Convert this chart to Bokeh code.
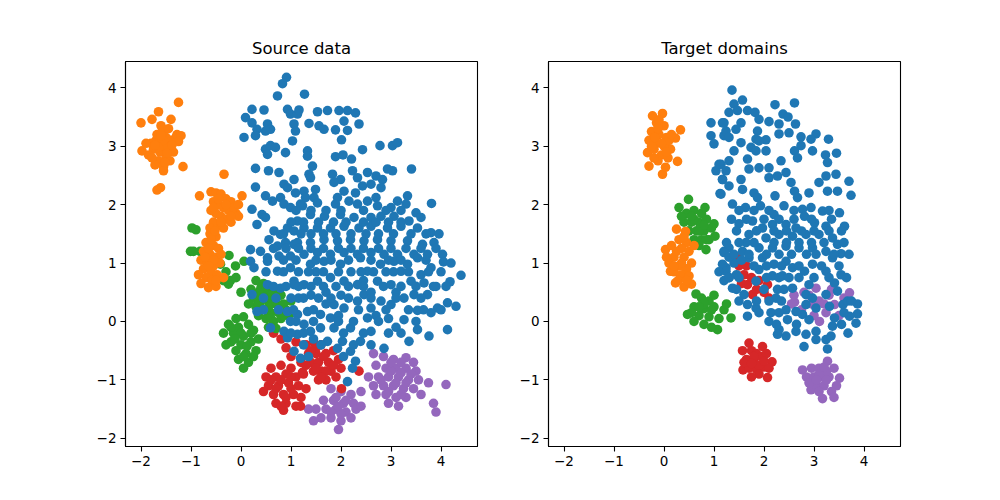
from bokeh.plotting import figure
from bokeh.layouts import row
from bokeh.models import Range1d, FixedTicker, CustomJSTickFormatter
from bokeh.embed import file_html
from bokeh.resources import INLINE

TITLES = ["Source data", "Target domains"]
TICKS = [-2, -1, 0, 1, 2, 3, 4]
X_RANGE = (-2.31, 4.73)
Y_RANGE = (-2.14, 4.45)
COLORS = {"blue": "#1f77b4", "orange": "#ff7f0e", "green": "#2ca02c",
          "red": "#d62728", "purple": "#9467bd"}

# ---------------- Source data ----------------
src_blue = [
    (0.91,4.18),(0.83,4.07),(0.73,3.86),(0.22,3.63),(0.46,3.62),(0.09,3.49),(0.22,3.40),(0.32,3.29),
    (0.53,3.38),(0.59,3.29),(0.49,3.26),(0.06,3.15),(0.29,3.18),(0.93,3.63),(0.99,3.55),(1.06,3.38),
    (1.09,3.26),(1.03,3.09),(1.13,3.55),(0.49,2.95),(0.59,3.01),(0.69,2.98),(0.53,2.86),(0.89,2.89),
    (0.29,2.62),(0.55,2.58),(0.76,2.55),(0.29,2.30),(0.86,2.35),(1.06,2.43),(1.09,2.20),(0.93,2.29),
    (0.49,2.15),(0.63,2.06),(0.79,2.12),(0.86,2.01),(0.99,1.95),(0.22,1.92),(0.32,1.66),(0.42,1.83),
    (0.49,1.78),(1.19,2.01),(0.19,1.23),(0.39,1.20),(0.56,1.40),(0.66,1.55),(0.79,1.49),(0.93,1.60),
    (1.06,1.55),(0.89,1.35),(1.06,1.32),(0.73,1.29),(0.53,1.09),(0.76,1.12),(0.99,1.12),
    (1.27,3.89),(1.16,3.62),(1.53,3.59),(1.73,3.61),(1.96,3.61),(2.13,3.61),(2.29,3.57),(2.06,3.43),
    (1.36,3.39),(1.56,3.35),(1.66,3.29),(1.89,3.28),(2.13,3.27),(2.36,3.38),(2.01,3.11),(2.43,2.94),
    (2.78,3.01),(3.03,3.01),(3.13,3.06),(1.33,2.92),(1.33,2.83),(1.89,2.82),(2.04,2.85),(2.21,2.78),
    (1.43,2.66),(1.36,2.52),(3.41,2.61),(2.93,2.61),(3.03,2.58),(2.53,2.55),(2.23,2.58),(1.83,2.52),
    (1.39,2.46),(1.99,2.43),(2.33,2.46),(2.70,2.49),(2.83,2.43),(1.86,2.38),(2.43,2.32),(2.60,2.35),
    (2.80,2.29),(1.26,2.23),(1.49,2.26),(2.06,2.23),(2.29,2.20),(1.46,2.12),(1.29,2.12),(1.93,2.12),
    (2.16,2.06),(2.70,2.12),(2.53,2.06),(3.33,2.15),(3.13,2.06),(3.81,2.02),(1.23,1.98),(1.53,2.03),
    (1.89,2.01),(2.33,2.01),(2.73,1.98),(3.00,1.95),(3.30,2.01),(3.50,1.86),(3.60,1.78),(1.39,1.83),
    (1.67,1.80),(1.99,1.83),(2.26,1.78),(2.60,1.78),(2.80,1.80),(3.06,1.80),(3.36,1.72),(1.13,1.72),
    (1.26,1.60),(1.53,1.60),(1.79,1.60),(2.06,1.63),(2.36,1.60),(2.60,1.63),(2.93,1.60),(3.20,1.63),
    (3.53,1.60),(3.80,1.52),(3.96,1.50),(3.86,1.35),(3.63,1.32),(3.33,1.38),(3.00,1.38),(2.73,1.40),
    (2.46,1.38),(2.19,1.40),(1.93,1.38),(1.66,1.40),(1.39,1.35),(1.13,1.35),(4.03,1.15),(3.73,1.15),
    (3.46,1.15),(3.13,1.15),(2.86,1.15),(2.60,1.18),(2.33,1.15),(2.06,1.18),(1.79,1.15),(1.53,1.18),
    (1.26,1.15),
    (4.40,0.79),(4.18,0.68),(4.05,1.02),(3.80,0.92),(3.53,1.09),(3.66,0.66),(3.40,0.69),(3.20,0.86),
    (3.00,0.63),(2.73,0.69),(2.53,0.86),(2.33,0.63),(2.06,0.69),(1.79,0.75),(1.53,0.69),(1.26,0.63),
    (1.06,0.69),(1.39,0.98),(1.66,1.03),(1.99,0.98),(2.39,1.09),(2.79,0.98),(3.06,1.03),(3.33,0.98),
    (4.30,0.26),(4.13,0.32),(3.93,0.23),(3.80,0.15),(3.73,0.46),(3.46,0.46),(3.53,0.19),(3.26,0.40),
    (3.26,0.03),(3.10,-0.10),(3.00,0.29),(2.80,0.35),(2.60,0.23),(2.46,0.46),(2.33,0.35),(2.53,0.06),
    (2.60,-0.17),(2.39,-0.34),(2.19,-0.11),(2.06,0.23),(1.86,0.29),(1.79,0.06),(1.59,0.12),(1.59,-0.11),
    (1.86,-0.11),(2.03,-0.34),(2.19,-0.51),(2.29,-0.68),(2.23,-0.80),(2.13,-1.03),(1.33,0.17),(1.26,-0.05),
    (1.39,-0.17),(1.13,-0.22),(1.06,-0.51),(1.19,-0.63),(1.73,-0.34),(1.93,-0.46),(2.86,-0.46),(3.36,-0.34),
    (3.53,-0.14),(3.76,-0.25),(4.13,-0.14),
    (0.19,1.03),(0.53,1.03),(0.26,0.92),(0.73,0.86),(0.99,0.92),(0.53,0.63),(0.79,0.57),(1.06,0.63),
    (0.22,0.46),(0.32,0.17),(0.93,0.17),(1.13,0.12),(0.59,-0.11),(0.86,-0.17),(0.99,0.00),(0.93,-0.28),
    (1.40,0.45),(1.70,0.50),(2.00,0.45),(2.20,0.85),(2.60,0.50),(2.90,0.85),(3.10,0.50),(1.15,0.40),
    (1.50,0.85),(2.45,0.70),(2.70,0.10),(2.95,0.05),(1.95,0.10),(1.45,-0.30),(1.70,0.30),(3.60,0.80),
    (3.90,0.60),(4.20,1.00),
    (1.10,1.90),(1.40,1.90),(1.70,1.90),(2.00,1.90),(2.45,1.90),(2.90,1.90),(3.20,1.90),
    (1.00,1.70),(1.25,1.70),(1.55,1.70),(1.85,1.70),(2.10,1.70),(2.45,1.70),(2.70,1.70),(2.95,1.70),(3.20,1.70),
    (0.85,1.50),(1.20,1.50),(1.40,1.50),(1.65,1.50),(1.90,1.50),(2.20,1.50),(2.50,1.50),(2.75,1.50),
    (3.05,1.50),(3.40,1.50),(3.70,1.50),
    (0.65,1.25),(0.90,1.25),(1.15,1.25),(1.40,1.25),(1.65,1.25),(1.95,1.25),(2.20,1.25),(2.45,1.25),
    (2.75,1.25),(3.00,1.25),(3.30,1.25),(3.60,1.25),(3.90,1.25),
    (0.85,1.05),(1.10,1.05),(1.50,1.05),(1.80,1.05),(2.15,1.05),(2.60,1.05),(2.95,1.05),(3.20,1.05),(3.70,1.05),
    (0.50,0.85),(0.85,0.85),(1.15,0.85),(1.35,0.85),(1.65,0.85),(1.95,0.85),(2.40,0.85),(2.65,0.85),
    (3.05,0.85),(3.35,0.85),(3.75,0.85),(4.00,0.85),
    (0.65,0.60),(0.90,0.60),(1.15,0.60),(1.40,0.60),(1.65,0.60),(1.90,0.60),(2.15,0.60),(2.45,0.60),
    (2.85,0.60),(3.20,0.60),(3.50,0.60),(3.85,0.60),(4.10,0.60),
    (0.45,0.40),(0.70,0.40),(1.00,0.40),(1.25,0.40),(1.55,0.40),(1.80,0.40),(2.15,0.40),(2.60,0.40),
    (3.10,0.40),(3.60,0.40),
    (0.45,0.20),(0.75,0.20),(1.05,0.20),(1.45,0.20),(2.35,0.20),(2.90,0.20),(3.35,0.20),(3.65,0.20),(4.00,0.20),
    (1.10,0.00),(1.45,0.00),(1.95,0.00),(2.25,0.00),(2.75,0.00),(3.50,0.00),
    (1.00,-0.20),(1.25,-0.20),(2.05,-0.20),(2.45,-0.20),(2.95,-0.20),(3.20,-0.20),
    (1.25,-0.40),(1.60,-0.40),(2.25,-0.40),(2.60,-0.40),(1.35,-0.60),(2.05,-0.60),
]
src_orange = [
    (-1.58,3.00),(-1.70,3.10),(-1.50,3.15),(-1.62,2.90),(-1.45,2.95),(-1.75,2.95),(-1.55,3.25),(-1.68,3.20),
    (-1.40,3.10),(-1.50,2.80),(-1.65,2.75),(-1.80,3.05),(-1.85,2.85),(-1.30,3.15),(-1.35,2.90),(-1.60,3.35),
    (-1.45,3.30),(-1.72,2.68),(-1.55,2.65),(-1.42,2.75),(-1.28,3.20),(-1.90,3.05),(-1.62,3.05),(-1.50,3.00),
    (-1.25,3.75),(-1.65,3.59),(-2.00,3.40),(-1.78,3.46),(-1.40,3.46),(-1.16,2.65),(-1.55,2.58),(-1.61,2.29),
    (-1.68,2.25),(-1.98,2.92),(-1.20,3.18),(-1.25,3.08),
    (-1.55,3.10),(-1.65,2.98),(-1.48,2.88),(-1.72,3.02),(-1.38,3.02),(-1.60,3.18),(-1.52,2.72),(-1.78,2.80),
    (-0.34,2.52),(-0.83,2.15),(0.02,2.15),(-0.60,2.22),(-0.50,2.20),(-0.40,2.18),(-0.30,2.10),(-0.20,2.05),
    (-0.55,2.05),(-0.45,2.00),(-0.35,1.95),(-0.25,1.90),(-0.10,1.85),(-0.50,1.85),(-0.40,1.80),(-0.30,1.75),
    (-0.60,1.90),(-0.15,1.95),(-0.05,2.00),(-0.45,1.65),(-0.35,1.60),(-0.20,1.70),(-0.05,1.80),(-0.55,1.70),
    (-0.45,2.10),(-0.30,2.00),(-0.55,1.95),(-0.20,1.80),(-0.40,1.70),
    (-0.62,1.50),(-0.50,1.45),(-0.70,1.35),(-0.55,1.30),(-0.45,1.25),(-0.75,1.20),(-0.62,1.15),(-0.50,1.10),
    (-0.80,1.05),(-0.68,1.00),(-0.55,0.95),(-0.42,1.00),(-0.75,0.90),(-0.60,0.85),(-0.48,0.80),(-0.70,0.75),
    (-0.58,0.70),(-0.80,0.65),(-0.65,0.58),(-0.50,0.60),(-0.35,0.75),(-0.85,0.80),(-0.40,1.15),(-0.62,1.60),
    (-0.52,1.55),(-0.65,1.25),(-0.55,1.05),(-0.65,0.95),(-0.72,1.10),(-0.60,1.40),(-0.50,0.70),
]
src_green = [
    (-0.98,1.60),(-0.90,1.57),(-1.01,1.20),(-0.82,1.20),(-0.95,1.20),(-0.24,1.13),(-0.11,0.95),(0.06,1.03),
    (-0.41,0.98),(-0.30,0.85),(-0.21,0.70),(-0.35,0.70),(-0.25,0.64),
    (0.30,0.70),(0.45,0.65),(0.20,0.55),(0.35,0.50),(0.50,0.50),(0.65,0.55),(0.80,0.45),(0.25,0.40),
    (0.40,0.35),(0.55,0.35),(0.70,0.30),(0.85,0.30),(1.00,0.35),(0.30,0.25),(0.45,0.20),(0.60,0.15),
    (0.75,0.15),(0.90,0.20),(0.50,0.05),(0.65,0.00),(0.80,0.05),(0.95,0.10),(0.55,-0.10),(0.70,-0.12),
    (0.00,0.50),(-0.10,0.75),(0.15,0.30),(0.35,0.10),(1.05,0.15),(0.60,0.45),(0.40,0.58),
    (0.40,0.45),(0.55,0.25),(0.70,0.40),(0.85,0.10),(0.60,0.05),(0.35,0.30),(0.75,0.55),(0.50,0.60),
    (-0.10,0.05),(0.05,0.08),(-0.25,-0.05),(-0.05,-0.10),(0.15,-0.05),(-0.35,-0.20),(-0.15,-0.20),(0.05,-0.25),
    (0.25,-0.15),(-0.20,-0.35),(0.00,-0.40),(0.20,-0.35),(0.35,-0.30),(-0.10,-0.50),(0.10,-0.55),(0.30,-0.50),
    (-0.05,-0.65),(0.15,-0.70),(0.05,-0.80),(-0.30,-0.40),(0.25,-0.60),
    (0.00,-0.20),(-0.12,-0.30),(0.12,-0.42),(0.05,-0.60),(-0.20,-0.10),(0.20,-0.20),
]
src_red = [
    (0.60,-0.80),(0.80,-0.75),(1.00,-0.80),(0.50,-0.95),(0.70,-0.95),(0.90,-0.90),(1.10,-0.95),(1.25,-0.90),
    (0.55,-1.10),(0.75,-1.10),(0.95,-1.05),(1.15,-1.10),(0.65,-1.25),(0.85,-1.25),(1.05,-1.25),(1.20,-1.30),
    (0.70,-1.40),(0.90,-1.40),(1.10,-1.45),(0.85,-1.52),(1.19,-1.45),(0.45,-1.20),(1.30,-1.15),
    (0.80,-1.00),(1.00,-1.15),(0.70,-1.15),(0.90,-1.30),(1.00,-0.95),(0.60,-1.00),(0.80,-1.45),
    (0.65,-0.20),(0.80,-0.30),(0.90,-0.45),(1.00,-0.60),(1.10,-0.35),(1.23,-0.87),(1.30,-0.40),(1.45,-0.35),
    (1.60,-0.40),(1.35,-0.55),(1.50,-0.55),(1.70,-0.55),(1.85,-0.50),(1.40,-0.70),(1.55,-0.70),(1.75,-0.70),
    (1.95,-0.65),(1.45,-0.85),(1.60,-0.85),(1.80,-0.85),(2.00,-0.80),(1.55,-1.00),(1.70,-1.00),(1.90,-0.95),
    (2.36,-0.85),(2.01,-1.15),(1.20,-0.70),
    (1.50,-0.45),(1.65,-0.60),(1.50,-0.80),(1.70,-0.85),(1.85,-0.75),(1.60,-0.95),(1.40,-0.50),(1.30,-0.75),
]
src_purple = [
    (2.65,-0.55),(2.85,-0.60),(3.05,-0.65),(3.30,-0.62),(3.45,-0.70),(2.70,-0.75),(2.90,-0.80),(3.10,-0.80),
    (3.30,-0.80),(3.50,-0.85),(2.55,-0.95),(2.75,-0.95),(2.95,-0.95),(3.15,-0.95),(3.35,-1.00),(3.55,-1.00),
    (2.65,-1.10),(2.85,-1.10),(3.05,-1.10),(3.25,-1.15),(3.45,-1.15),(2.70,-1.25),(2.90,-1.25),(3.10,-1.30),
    (3.30,-1.30),(2.95,-1.40),(3.15,-1.45),(3.75,-1.05),(4.10,-1.08),(3.85,-1.40),(3.90,-1.55),(2.40,-1.20),
    (3.60,-1.25),
    (3.00,-0.85),(3.20,-0.88),(3.40,-0.90),(2.80,-1.00),(3.10,-1.05),(3.30,-1.05),(2.95,-1.20),(3.20,-1.25),
    (3.00,-0.70),(3.20,-0.70),
    (1.80,-1.15),(2.00,-1.20),(2.20,-1.25),(1.65,-1.35),(1.85,-1.35),(2.05,-1.40),(2.25,-1.40),(1.50,-1.50),
    (1.70,-1.50),(1.90,-1.50),(2.10,-1.55),(2.30,-1.50),(1.60,-1.65),(1.80,-1.65),(2.00,-1.70),(2.20,-1.65),
    (1.45,-1.70),(1.95,-1.85),(2.40,-1.45),(1.35,-1.50),
    (1.90,-1.30),(2.10,-1.35),(1.80,-1.55),(2.00,-1.58),(1.95,-1.45),
]

# ---------------- Target domains ----------------
tgt_blue = [
    (0.94,3.40),(1.17,3.40),(0.94,3.18),(1.00,3.04),(1.20,3.18),(1.04,2.58),(1.14,2.69),(1.17,2.43),
    (1.12,2.19),(1.20,1.20),
    (1.36,3.96),(1.57,3.79),(1.40,3.72),(1.47,3.61),(1.30,3.58),(1.67,3.61),(1.82,3.58),(1.90,3.46),
    (1.54,3.40),(1.20,3.40),(1.24,3.26),(1.44,3.29),(1.30,3.15),(1.54,3.06),(1.87,3.26),(1.84,3.12),
    (2.04,3.11),(2.10,3.42),(2.22,3.71),(2.61,3.74),(2.38,3.55),(2.48,3.50),(2.30,3.38),(2.63,3.38),
    (2.50,3.23),(2.30,3.21),(2.74,3.16),(3.04,3.21),(2.94,3.12),(3.29,3.12),(2.74,3.01),(2.61,2.92),
    (2.97,2.92),(2.67,2.80),(3.23,2.85),(3.45,2.88),(3.27,2.72),(1.40,2.92),(1.74,2.98),(1.90,3.09),
    (2.04,2.92),(1.84,2.92),(1.67,2.78),(1.30,2.75),(1.10,2.69),(1.24,2.58),(2.34,2.75),(2.10,2.63),
    (1.90,2.63),(1.70,2.61),(2.44,2.55),(2.27,2.49),(2.10,2.46),(1.54,2.43),(1.17,2.43),(1.30,2.32),
    (1.14,2.18),(1.57,2.26),(1.80,2.20),(1.87,2.12),(2.22,2.15),(2.54,2.38),(2.61,2.23),(2.67,2.12),
    (2.90,2.20),(3.10,2.38),(3.24,2.49),(3.44,2.52),(3.27,2.23),(3.47,2.23),(3.70,2.40),(3.74,2.16),
    (1.37,2.01),(1.63,1.95),(1.93,1.98),(2.40,1.98),(2.20,1.83),(2.77,1.92),(2.94,1.95),(3.17,1.89),
    (3.51,1.86),(3.61,1.63),(3.24,1.63),(3.01,1.69),(2.81,1.80),(1.50,1.67),(1.77,1.72),(1.97,1.60),
    (2.17,1.66),(2.44,1.66),(2.64,1.60),(1.70,1.49),(2.04,1.43),(2.30,1.49),(2.57,1.46),(2.84,1.49),
    (3.10,1.49),(3.37,1.43),(3.47,1.32),(1.64,1.35),(1.30,1.26),(1.57,1.20),(1.90,1.26),(2.17,1.26),
    (2.44,1.29),(2.70,1.26),(2.97,1.26),(3.24,1.20),(3.54,1.16),(1.20,1.18),
    (1.24,0.92),(1.30,0.75),(1.37,0.57),(1.17,0.98),(1.60,0.46),(1.67,0.29),(1.84,0.23),(1.67,0.09),
    (1.70,1.09),(1.84,0.69),(1.90,0.89),(1.97,1.09),(2.20,0.98),(2.44,1.03),(2.57,0.92),(2.37,0.78),
    (2.17,0.78),(2.27,0.55),(2.24,0.40),(2.57,0.57),(2.81,0.86),(2.97,0.98),(3.04,1.15),(3.24,0.86),
    (3.37,1.09),(3.54,0.80),(3.41,0.66),(3.47,0.52),(2.90,0.63),(2.84,0.46),(2.84,0.29),(3.04,0.23),
    (2.97,0.40),(3.24,0.46),(3.31,0.26),(3.58,0.29),(3.67,0.35),(3.87,0.30),(3.87,0.13),(3.71,0.09),
    (3.84,-0.03),(3.41,0.06),(3.37,-0.08),(3.68,-0.20),(2.77,0.12),(2.64,0.17),(2.44,0.20),(2.14,0.15),
    (2.10,0.00),(2.47,0.03),(2.90,0.03),(2.30,-0.14),(2.27,-0.22),(2.44,-0.25),(2.64,-0.17),(2.84,-0.22),
    (3.04,-0.17),(3.04,-0.31),(3.24,-0.31),(3.34,-0.25),(2.80,-0.43),(3.27,-0.47),
    (1.24,0.86),(1.10,0.85),(1.20,0.70),(1.45,0.80),(1.40,1.00),(1.55,1.05),(1.30,1.10),
    (1.50,1.90),(1.80,1.90),(2.10,1.90),(2.60,1.90),(3.30,1.90),
    (1.35,1.75),(1.65,1.75),(2.00,1.75),(2.30,1.75),(2.60,1.75),(2.95,1.75),(3.35,1.75),
    (1.45,1.55),(1.85,1.55),(2.20,1.55),(2.45,1.55),(2.75,1.55),(3.00,1.55),(3.30,1.55),(3.55,1.55),
    (1.25,1.35),(1.50,1.35),(1.80,1.35),(2.20,1.35),(2.45,1.35),(2.70,1.35),(2.95,1.35),(3.20,1.35),(3.60,1.35),
    (1.40,1.15),(1.70,1.15),(2.05,1.15),(2.30,1.15),(2.55,1.15),(2.85,1.15),(3.40,1.15),(3.70,1.15),
    (1.80,0.95),(2.05,0.95),(2.35,0.95),(2.70,0.95),(3.15,0.95),(3.50,0.95),
    (1.30,0.75),(1.50,0.75),(2.05,0.75),(2.30,0.75),(2.50,0.75),(2.70,0.75),(3.00,0.75),(3.30,0.75),(3.65,0.75),
    (1.45,0.55),(2.00,0.55),(2.40,0.55),
    (1.50,0.35),(1.85,0.35),(2.10,0.35),(2.35,0.35),(3.75,0.35),
    (1.90,0.15),(2.30,0.15),(3.60,0.15),
    (2.25,-0.05),(2.65,-0.05),(3.55,-0.05),
]
tgt_orange = [
    (-0.23,3.52),(-0.03,3.56),(0.33,3.28),(0.23,3.14),(-0.33,2.89),(0.13,2.95),(0.27,2.74),(-0.30,2.66),
    (-0.03,2.52),(0.03,2.64),(-0.15,3.40),(0.00,3.35),(-0.25,3.25),(-0.10,3.20),(0.05,3.15),(-0.30,3.10),
    (-0.15,3.05),(0.00,3.00),(-0.20,2.95),(-0.05,2.85),(0.10,3.10),(-0.12,2.75),(0.08,2.80),(-0.25,3.00),
    (-0.10,3.45),(0.15,3.20),(-0.18,3.15),(-0.05,3.05),(-0.20,2.80),(0.05,2.90),(-0.12,3.30),
    (0.25,1.58),(0.43,1.54),(0.03,1.23),(0.23,0.66),(0.40,0.59),(0.55,0.64),(0.13,0.86),(0.30,1.40),
    (0.45,1.35),(0.15,1.30),(0.35,1.25),(0.50,1.20),(0.20,1.10),(0.40,1.10),(0.55,1.00),(0.10,1.00),
    (0.30,0.95),(0.45,0.90),(0.20,0.85),(0.35,0.80),(0.50,0.78),(0.28,0.70),(0.60,1.30),(0.05,1.10),
    (0.35,1.00),(0.25,1.20),(0.40,1.45),(0.20,0.95),(0.45,0.70),
]
tgt_green = [
    (0.49,2.09),(0.30,1.95),(1.00,1.67),(1.02,1.46),(0.84,1.23),(0.45,1.85),(0.60,1.90),(0.75,1.85),
    (0.40,1.70),(0.55,1.70),(0.70,1.70),(0.85,1.75),(0.50,1.55),(0.65,1.55),(0.80,1.55),(0.95,1.60),
    (0.60,1.40),(0.75,1.40),(0.90,1.40),(0.70,1.30),(0.35,1.80),(0.82,1.95),
    (0.60,1.75),(0.70,1.55),(0.80,1.65),(0.55,1.80),(0.85,1.40),
    (0.64,0.47),(0.47,0.12),(1.07,-0.14),(1.34,0.06),(0.75,0.40),(0.90,0.35),(0.60,0.25),(0.80,0.22),
    (1.00,0.25),(1.20,0.20),(0.70,0.10),(0.90,0.08),(1.10,0.05),(0.60,0.00),(0.80,-0.05),(0.95,-0.10),
    (1.25,0.30),(0.55,0.15),(1.00,0.45),(0.80,0.30),(0.95,0.20),(0.70,0.25),
]
tgt_red = [
    (1.70,-0.37),(1.57,-0.50),(1.97,-0.43),(1.58,-0.83),(2.07,-0.96),(2.16,-0.69),(1.75,-0.50),(1.85,-0.55),
    (1.65,-0.65),(1.80,-0.68),(1.95,-0.60),(2.05,-0.55),(1.70,-0.80),(1.85,-0.82),(2.00,-0.78),(1.90,-0.90),
    (1.75,-0.95),(2.10,-0.80),(1.60,-0.70),(1.80,-0.60),(1.90,-0.75),(1.75,-0.72),(2.00,-0.68),
    (1.47,1.09),(1.67,0.63),(2.07,0.63),(2.10,0.40),(1.77,0.46),(1.60,0.80),(1.75,0.75),(1.90,0.70),
    (1.55,0.65),(1.85,0.55),(2.00,0.50),(1.50,0.95),(1.65,0.95),
]
tgt_purple = [
    (3.27,-0.68),(2.77,-0.83),(3.17,-1.32),(3.51,-0.97),(2.94,-1.17),(2.95,-0.80),(3.10,-0.80),(3.40,-0.80),
    (2.85,-0.95),(3.00,-0.95),(3.15,-0.95),(3.30,-0.95),(3.45,-1.10),(3.05,-1.10),(3.20,-1.10),(3.35,-1.20),
    (3.10,-1.20),(3.25,-0.85),(3.40,-1.30),(2.90,-1.05),(3.10,-0.90),(3.25,-1.00),(3.05,-1.00),(3.20,-0.78),
    (3.71,0.49),(2.61,0.33),(3.11,0.00),(3.41,0.29),(3.04,0.57),(3.24,0.15),(2.80,0.50),(2.95,0.30),
    (3.10,0.35),(3.30,0.45),(3.50,0.10),(2.75,0.20),
    (2.55,0.30),(2.60,0.45),(3.00,0.10),(3.20,0.30),(3.35,0.55),(3.60,0.40),(2.90,0.45),
]

SOURCE = [("purple", src_purple), ("red", src_red), ("green", src_green),
          ("orange", src_orange), ("blue", src_blue)]
TARGET = [("purple", tgt_purple), ("red", tgt_red), ("green", tgt_green),
          ("orange", tgt_orange), ("blue", tgt_blue)]

FONT = "DejaVu Sans"
minus_fmt = "return (tick < 0 ? '\u2212' : '') + Math.abs(tick).toFixed(0);"


def make_panel(title, groups, left, right):
    top, bottom = 61, 39
    p = figure(width=left + 352 + right, height=top + 385 + bottom,
               frame_width=352, frame_height=385,
               x_range=Range1d(*X_RANGE), y_range=Range1d(*Y_RANGE),
               output_backend="svg", toolbar_location=None, tools="",
               min_border_left=left, min_border_right=right,
               min_border_top=top, min_border_bottom=bottom,
               background_fill_color="white", border_fill_color="white")
    p.title.text = title
    p.title.align = "center"
    p.title.text_font = FONT
    p.title.text_font_size = "16.5px"
    p.title.text_font_style = "normal"
    p.title.text_color = "black"
    p.title.standoff = 8
    p.grid.visible = False
    p.outline_line_color = "black"
    p.outline_line_width = 1.1
    for ax, ticks in ((p.xaxis[0], TICKS), (p.yaxis[0], TICKS)):
        ax.ticker = FixedTicker(ticks=ticks)
        ax.formatter = CustomJSTickFormatter(code=minus_fmt)
        ax.major_label_text_font = FONT
        ax.major_label_text_font_size = "13.5px"
        ax.major_label_text_color = "black"
        ax.major_tick_out = 5
        ax.major_tick_in = 0
        ax.minor_tick_line_color = None
        ax.major_tick_line_color = "black"
        ax.major_tick_line_width = 1.1
        ax.axis_line_color = "black"
        ax.axis_line_width = 1.1
        ax.major_label_standoff = 4
    for name, pts in groups:
        xs = [q[0] for q in pts]
        ys = [q[1] for q in pts]
        p.scatter(xs, ys, size=9.6, fill_color=COLORS[name], line_color=None)
    return p


p1 = make_panel(TITLES[0], SOURCE, 125, 35)
p2 = make_panel(TITLES[1], TARGET, 36, 20)
layout = row(p1, p2)
open("out.html", "w").write(file_html(layout, INLINE))
